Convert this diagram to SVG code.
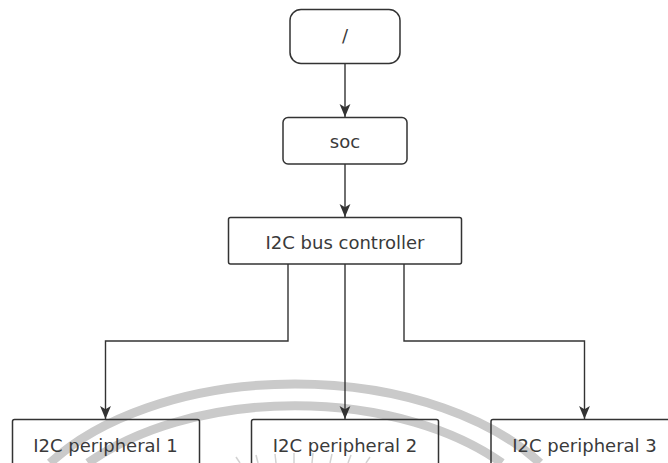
<svg xmlns="http://www.w3.org/2000/svg" width="668" height="463" viewBox="0 0 668 463">
<style>
.box{fill:none;stroke:#333;stroke-width:1.5}
.fbox{fill:#fff;stroke:#333;stroke-width:1.5}
.lbl{font-family:"DejaVu Sans",sans-serif;font-size:18px;fill:#3a3a3a;text-anchor:middle}
.edge{fill:none;stroke:#333;stroke-width:1.4}
.wm{fill:none;stroke:#cacaca;stroke-width:9}
.tick{stroke:#d2d2d2;stroke-width:1.5}
</style>
<defs>
<marker id="arr" viewBox="0 0 12 12" refX="12" refY="6" markerWidth="13" markerHeight="13" markerUnits="userSpaceOnUse" orient="auto">
<path d="M0,1 L12,6 L0,11 L3,6 Z" fill="#333"/>
</marker>
</defs>
<rect width="668" height="463" fill="#fff"/>
<g id="watermark">
<path class="wm" d="M 50 463 A 290 170 0 0 1 540 463"/>
<path class="wm" d="M 88 463 A 270 160 0 0 1 502 463"/>
<line class="tick" x1="240" y1="463" x2="236" y2="457"/>
<line class="tick" x1="258" y1="463" x2="256" y2="455"/>
<line class="tick" x1="276" y1="463" x2="275" y2="454"/>
<line class="tick" x1="294" y1="463" x2="294" y2="453"/>
<line class="tick" x1="312" y1="463" x2="313" y2="453"/>
<line class="tick" x1="330" y1="463" x2="332" y2="454"/>
<line class="tick" x1="348" y1="463" x2="351" y2="455"/>
<line class="tick" x1="366" y1="463" x2="370" y2="457"/>
</g>
<g id="edges">
<line class="edge" x1="345" y1="64" x2="345" y2="117" marker-end="url(#arr)"/>
<line class="edge" x1="345" y1="164" x2="345" y2="217" marker-end="url(#arr)"/>
<path class="edge" d="M288,264 V341 H105.5 V419" marker-end="url(#arr)"/>
<line class="edge" x1="345" y1="264" x2="345" y2="419" marker-end="url(#arr)"/>
<path class="edge" d="M404,264 V341 H584.5 V419" marker-end="url(#arr)"/>
</g>
<g id="root">
<rect class="fbox" x="290" y="9.5" width="110" height="54" rx="11"/>
<text class="lbl" x="345" y="42">/</text>
</g>
<g id="soc">
<rect class="fbox" x="283" y="117.5" width="124" height="46.5" rx="5"/>
<text class="lbl" x="345" y="148">soc</text>
</g>
<g id="i2c_bus">
<rect class="fbox" x="228.5" y="217.5" width="233" height="46.5" rx="2"/>
<text class="lbl" x="345" y="249">I2C bus controller</text>
</g>
<g id="periph1">
<rect class="box" x="12.5" y="419.5" width="187" height="60" rx="2"/>
<text class="lbl" x="105.5" y="452">I2C peripheral 1</text>
</g>
<g id="periph2">
<rect class="box" x="251.5" y="419.5" width="187" height="60" rx="2"/>
<text class="lbl" x="345" y="452">I2C peripheral 2</text>
</g>
<g id="periph3">
<rect class="box" x="491" y="419.5" width="187" height="60" rx="2"/>
<text class="lbl" x="584.5" y="452">I2C peripheral 3</text>
</g>
</svg>
